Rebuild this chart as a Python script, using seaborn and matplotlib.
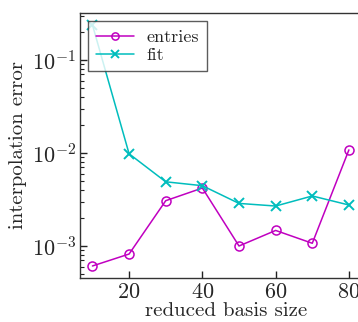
import matplotlib
matplotlib.use("Agg")
import matplotlib.pyplot as plt
import matplotlib.ticker as mticker
import pandas as pd
import seaborn as sns

basis_size = [10, 20, 30, 40, 50, 60, 70, 80]
entries_err = [6.1e-4, 8.2e-4, 3.07e-3, 4.2e-3, 1.0e-3, 1.47e-3, 1.07e-3, 1.08e-2]
fit_err = [0.238, 9.8e-3, 4.9e-3, 4.45e-3, 2.87e-3, 2.69e-3, 3.45e-3, 2.76e-3]

df = pd.DataFrame({"basis": basis_size, "entries": entries_err, "fit": fit_err})

sns.set_theme(style="ticks")
plt.rcParams["font.family"] = ["serif"]
plt.rcParams["font.serif"] = ["cmr10", "DejaVu Serif"]
plt.rcParams["mathtext.fontset"] = "cm"
plt.rcParams["axes.formatter.use_mathtext"] = True
plt.rcParams["xtick.direction"] = "in"
plt.rcParams["ytick.direction"] = "in"

magenta = "#c000c0"
cyan = "#00bdbd"

fig = plt.figure(figsize=(3.58, 3.22), dpi=100)
ax = fig.add_axes([80 / 358, 1 - 278 / 322, 292 / 358, 265 / 322])

sns.lineplot(data=df, x="basis", y="entries", ax=ax, color=magenta, marker="o",
             markersize=6.5, markerfacecolor="none", markeredgecolor=magenta,
             markeredgewidth=1.1, linewidth=1.1, label="entries")
sns.lineplot(data=df, x="basis", y="fit", ax=ax, color=cyan, marker="x",
             markersize=6.5, markeredgecolor=cyan, markeredgewidth=1.4,
             linewidth=1.1, label="fit")

ax.set_yscale("log")
ax.set_xlim(6.6, 86.3)
ax.set_ylim(10 ** -3.344, 10 ** -0.495)
ax.set_xticks([20, 40, 60, 80])
ax.yaxis.set_minor_locator(mticker.LogLocator(base=10, subs=range(2, 10), numticks=20))
ax.yaxis.set_minor_formatter(mticker.NullFormatter())
ax.set_xlabel("reduced basis size", fontsize=15, labelpad=0)
ax.set_ylabel("interpolation error", fontsize=15, labelpad=3)
ax.tick_params(axis="both", which="major", labelsize=16, length=5, width=1,
               color="#222222", pad=3)
ax.tick_params(axis="y", which="minor", length=3, width=0.8, color="#222222")
for s in ax.spines.values():
    s.set_linewidth(1.0)
    s.set_color("#333333")

leg = ax.legend(loc="upper left", fontsize=13, fancybox=False, framealpha=0.8,
                edgecolor="#333333", borderpad=0.45, handlelength=2.1,
                labelspacing=0.15, borderaxespad=0.45, handletextpad=0.7,
                markerscale=0.8)
leg.get_frame().set_linewidth(1.0)

fig.savefig("out.png", dpi=100)
